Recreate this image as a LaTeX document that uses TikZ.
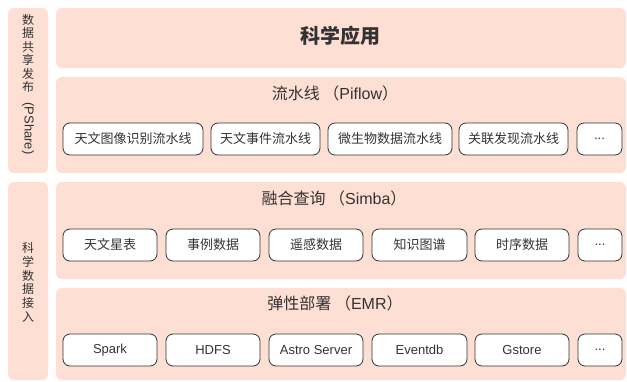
\documentclass[tikz,border=0pt]{standalone}
\usepackage{fontspec}
\setmainfont{Noto Sans CJK SC}
\newfontfamily\latinf{Liberation Sans}
\definecolor{peach}{HTML}{FDDFD4}
\definecolor{txt}{HTML}{333333}
\newcommand\mydots{{\latinf ...}}
\tikzset{
  layer/.style={fill=peach, draw=none, rounded corners=6pt},
  item/.style={draw=txt, fill=white, rounded corners=7pt, line width=0.8pt, text=txt, font=\fontsize{13}{15}\selectfont, inner sep=0pt},
  ttl/.style={text=txt, font=\fontsize{16}{19}\selectfont},
  side/.style={text=txt, font=\fontsize{12}{14}\selectfont, inner sep=0pt},
}
\begin{document}
\begin{tikzpicture}[x=1pt,y=-1pt]
\useasboundingbox (0,0) rectangle (627,381);
% left column
\path[layer] (8,8) rectangle (48,173);
\path[layer] (8,182) rectangle (48,380);
\foreach \c [count=\i] in {数,据,共,享,发,布}{
  \node[side] (lt\i) at (28,{20+13.4*(\i-1)}) {\c};
}
\node[side, font=\latinf\fontsize{13}{15}\selectfont, rotate=-90] (lt7) at (28,128.5) {(PShare)};
\foreach \c [count=\i] in {科,学,数,据,接,入}{
  \node[side] (lb\i) at (28,{248+13.8*(\i-1)}) {\c};
}
% main layers
\path[layer] (56,8) rectangle (626,68);
\path[layer] (56,77) rectangle (626,173);
\path[layer] (56,182) rectangle (626,279);
\path[layer] (56,288) rectangle (626,380);
\node[text=txt, font=\fontsize{20}{24}\selectfont\bfseries] (app) at (340,36) {科学应用};
\node[ttl] (t1) at (335,93) {流水线 （{\latinf Piflow}）};
\node[ttl] (t2) at (334,198) {融合查询 （{\latinf Simba}）};
\node[ttl] (t3) at (335,303) {弹性部署 （{\latinf EMR}）};
% row 1
\foreach \a/\b/\t [count=\i] in {63/203/天文图像识别流水线, 211/320/天文事件流水线, 328/452/微生物数据流水线, 459/568/关联发现流水线, 577/622/\mydots}{
  \node[item, minimum width=\b-\a, minimum height=32] (p\i) at ({(\a+\b)/2},139) {\t};
}
% row 2
\foreach \a/\b/\t [count=\i] in {63/157/天文星表, 166/260/事例数据, 269/363/遥感数据, 372/467/知识图谱, 475/569/时序数据, 578/622/\mydots}{
  \node[item, minimum width=\b-\a, minimum height=32] (s\i) at ({(\a+\b)/2},245) {\t};
}
% row 3
\foreach \a/\b/\t [count=\i] in {63/157/Spark, 166/260/HDFS, 269/363/Astro Server, 372/467/Eventdb, 475/569/Gstore, 578/622/\mydots}{
  \node[item, minimum width=\b-\a, minimum height=32, font=\latinf\fontsize{13}{15}\selectfont] (e\i) at ({(\a+\b)/2},350) {\t};
}
\end{tikzpicture}
\end{document}
